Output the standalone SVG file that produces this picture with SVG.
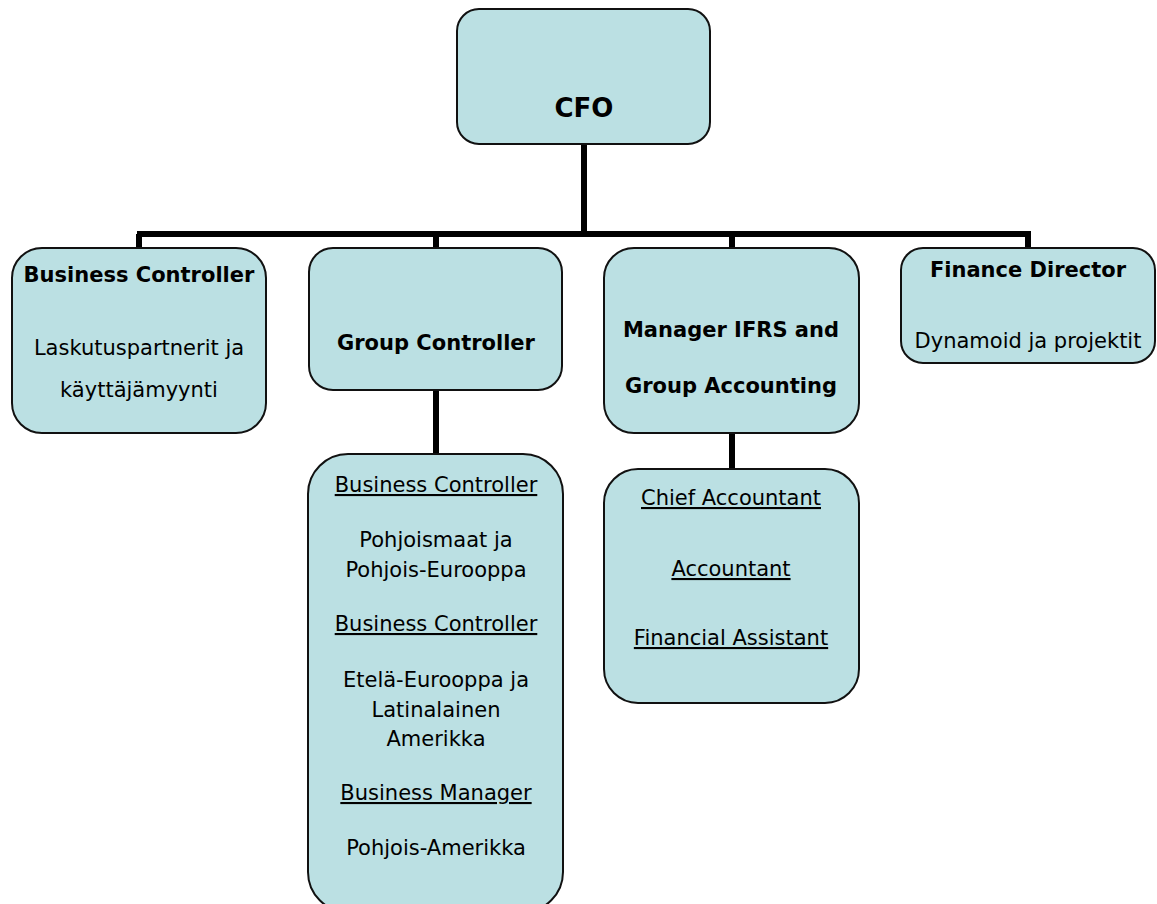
<svg xmlns="http://www.w3.org/2000/svg" width="1157" height="904" viewBox="0 0 1157 904">
  <style>
    .box { fill: #BBE0E3; stroke: #111; stroke-width: 2; }
    .wire { stroke: #000; stroke-width: 6; fill: none; }
    text { font-family: "DejaVu Sans", "Liberation Sans", sans-serif; font-size: 21px; fill: #000; text-anchor: middle; }
    .b { font-weight: bold; }
    .t { font-size: 26px; }
    .u { text-decoration: underline; }
  </style>
  <rect x="0" y="0" width="1157" height="904" fill="#fff"/>

  <g id="connectors">
    <line class="wire" x1="584" y1="144" x2="584" y2="234"/>
    <line class="wire" x1="137" y1="234" x2="1031" y2="234"/>
    <line class="wire" x1="139" y1="234" x2="139" y2="248"/>
    <line class="wire" x1="436" y1="234" x2="436" y2="248"/>
    <line class="wire" x1="732" y1="234" x2="732" y2="248"/>
    <line class="wire" x1="1028" y1="234" x2="1028" y2="248"/>
    <line class="wire" x1="436" y1="390" x2="436" y2="454"/>
    <line class="wire" x1="732" y1="432" x2="732" y2="469"/>
  </g>

  <g id="cfo">
    <rect class="box" x="457" y="9" width="253" height="135" rx="22"/>
    <text class="b t" x="584" y="117">CFO</text>
  </g>

  <g id="business-controller">
    <rect class="box" x="12" y="248" width="254" height="185" rx="30"/>
    <text class="b" x="139" y="282">Business Controller</text>
    <text x="139" y="355">Laskutuspartnerit ja</text>
    <text x="139" y="397">käyttäjämyynti</text>
  </g>

  <g id="group-controller">
    <rect class="box" x="309" y="248" width="253" height="142" rx="24"/>
    <text class="b" x="436" y="350">Group Controller</text>
  </g>

  <g id="group-controller-team">
    <rect class="box" x="308" y="454" width="255" height="458" rx="40"/>
    <text class="u" x="436" y="492">Business Controller</text>
    <text x="436" y="547">Pohjoismaat ja</text>
    <text x="436" y="577">Pohjois-Eurooppa</text>
    <text class="u" x="436" y="631">Business Controller</text>
    <text x="436" y="687">Etelä-Eurooppa ja</text>
    <text x="436" y="717">Latinalainen</text>
    <text x="436" y="746">Amerikka</text>
    <text class="u" x="436" y="800">Business Manager</text>
    <text x="436" y="855">Pohjois-Amerikka</text>
  </g>

  <g id="manager-ifrs">
    <rect class="box" x="604" y="248" width="255" height="185" rx="30"/>
    <text class="b" x="731" y="337">Manager IFRS and</text>
    <text class="b" x="731" y="393">Group Accounting</text>
  </g>

  <g id="accounting-team">
    <rect class="box" x="604" y="469" width="255" height="234" rx="34"/>
    <text class="u" x="731" y="505">Chief Accountant</text>
    <text class="u" x="731" y="576">Accountant</text>
    <text class="u" x="731" y="645">Financial Assistant</text>
  </g>

  <g id="finance-director">
    <rect class="box" x="901" y="248" width="254" height="115" rx="22"/>
    <text class="b" x="1028" y="277">Finance Director</text>
    <text x="1028" y="348">Dynamoid ja projektit</text>
  </g>
</svg>
